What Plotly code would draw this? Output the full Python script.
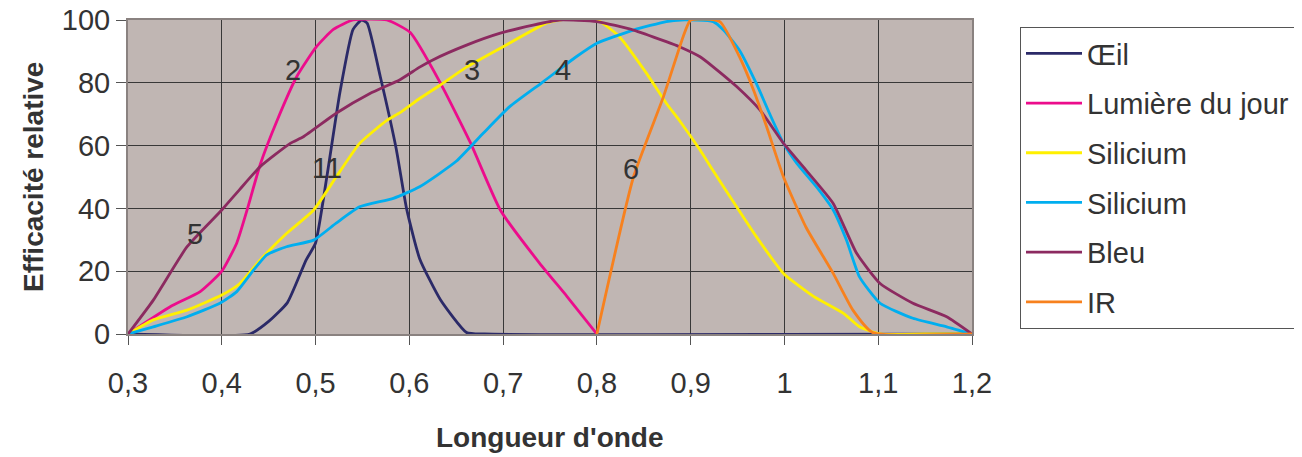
import plotly.graph_objects as go

# Longueur d'onde (µm) et efficacité relative (%)
oeil_x = [0.3, 0.43, 0.45, 0.47, 0.49, 0.5, 0.512, 0.526, 0.54, 0.549, 0.555, 0.569, 0.586, 0.597,
          0.611, 0.633, 0.661, 0.68, 1.2]
oeil_y = [0, 0, 4, 10, 23.6, 29, 50, 77, 97, 100, 99, 82, 59, 40, 24, 11, 0.5, 0, 0]

jour_x = [0.3, 0.345, 0.377, 0.4, 0.416, 0.427, 0.441, 0.459, 0.48, 0.501, 0.519, 0.54, 0.576,
          0.601, 0.633, 0.665, 0.697, 0.739, 0.768, 0.8]
jour_y = [0, 8.7, 13.5, 20, 29, 39.5, 54, 68, 82, 91.5, 97, 100, 100, 96, 80, 61, 39.5, 22.5, 12, 0]

sil1_x = [0.3, 0.327, 0.363, 0.4, 0.419, 0.441, 0.469, 0.498, 0.522, 0.547, 0.576, 0.59, 0.611,
          0.633, 0.661, 0.7, 0.746, 0.76, 0.8, 0.824, 0.853, 0.874, 0.888, 0.91, 0.924, 0.942,
          0.97, 0.999, 1.031, 1.063, 1.08, 1.102, 1.15, 1.2]
sil1_y = [0, 4.5, 7.6, 12.4, 16, 23.6, 32, 39.5, 50, 60.7, 68, 70.5, 75, 79.3, 85, 91.5, 99, 100,
          100, 94.7, 83, 73.5, 68, 58.6, 52, 43.7, 31, 19.3, 12, 6.6, 2.3, 0, 0, 0]

sil2_x = [0.3, 0.327, 0.363, 0.398, 0.416, 0.434, 0.448, 0.469, 0.498, 0.522, 0.547, 0.583, 0.611,
          0.65, 0.679, 0.707, 0.743, 0.778, 0.8, 0.839, 0.874, 0.89, 0.924, 0.935, 0.952, 0.97,
          0.984, 0.999, 1.013, 1.034, 1.052, 1.066, 1.08, 1.102, 1.137, 1.173, 1.2]
sil2_y = [0, 2.3, 5.5, 9.8, 13.5, 20.4, 25.2, 27.8, 29.9, 35.3, 40.5, 43.2, 46.9, 55, 64, 72.4,
          80.4, 88.3, 92.6, 96.8, 99.5, 100, 99.5, 96.8, 90.4, 79.8, 70.3, 60.7, 54.4, 46.9,
          39.5, 30, 18.2, 9.8, 5, 2.3, 0]

bleu_x = [0.3, 0.327, 0.363, 0.4, 0.419, 0.441, 0.473, 0.487, 0.522, 0.558, 0.59, 0.611, 0.625,
          0.661, 0.697, 0.732, 0.76, 0.8, 0.839, 0.874, 0.888, 0.91, 0.924, 0.949, 0.974, 0.999,
          1.023, 1.052, 1.077, 1.102, 1.137, 1.173, 1.2]
bleu_y = [0, 10.8, 27.8, 39.5, 46, 53.3, 60.7, 62.8, 70.3, 76.6, 81, 85, 87.3, 92, 95.8, 98.4,
          100, 99.5, 96.8, 93.1, 91.5, 88.3, 85.1, 78.8, 71.3, 60.7, 52.2, 41.6, 25.7, 16.1, 9.8,
          5.5, 0]

ir_x = [0.8, 0.839, 0.871, 0.892, 0.9, 0.931, 0.952, 0.967, 0.981, 0.999, 1.023, 1.052, 1.073,
        1.094, 1.2]
ir_y = [0, 50, 75.6, 94.7, 100, 99.5, 88.3, 77.7, 66, 50, 34, 19.3, 7.6, 0.5, 0]

x_ticks = [0.3, 0.4, 0.5, 0.6, 0.7, 0.8, 0.9, 1.0, 1.1, 1.2]
x_ticktext = ["0,3", "0,4", "0,5", "0,6", "0,7", "0,8", "0,9", "1", "1,1", "1,2"]

# numéros de courbes posés sur le graphique
label_text = ["2", "3", "4", "11", "5", "6"]
label_x = [0.476, 0.667, 0.764, 0.512, 0.371, 0.836]
label_y = [84, 84, 84, 53, 32, 52.6]

FONT = "Liberation Sans, Arial, sans-serif"
TXT = "#333333"

series = [
    ("Œil", oeil_x, oeil_y, "#2b2a68"),
    ("Lumière du jour", jour_x, jour_y, "#ec0c8c"),
    ("Silicium", sil1_x, sil1_y, "#fff000"),
    ("Silicium", sil2_x, sil2_y, "#00aeef"),
    ("Bleu", bleu_x, bleu_y, "#8c2a60"),
    ("IR", ir_x, ir_y, "#f7811e"),
]

fig = go.Figure()
for i, (name, xs, ys, col) in enumerate(series):
    fig.add_trace(go.Scatter(x=xs, y=ys, mode="lines", name=name, legendgroup=str(i),
                             line=dict(color=col, width=2.8, shape="spline", smoothing=0.5)))

for t, lx, ly in zip(label_text, label_x, label_y):
    fig.add_annotation(x=lx, y=ly, text=t, showarrow=False,
                       font=dict(family=FONT, size=29, color=TXT))

fig.add_annotation(xref="paper", yref="paper", x=-0.1126, y=0.5, text="<b>Efficacité relative</b>",
                   textangle=-90, showarrow=False, xanchor="center", yanchor="middle",
                   font=dict(family=FONT, size=28, color=TXT))
fig.add_annotation(xref="paper", yref="paper", x=0.5, y=-0.331, text="<b>Longueur d'onde</b>",
                   showarrow=False, xanchor="center", yanchor="middle",
                   font=dict(family=FONT, size=28, color=TXT))

# the page body adds 8px around the figure, so the figure is 8px smaller on each side
fig.update_layout(
    width=1294, height=449,
    margin=dict(l=120, r=330, t=12, b=123),
    paper_bgcolor="white", plot_bgcolor="#c0b6b3",
    font=dict(family=FONT, size=29, color=TXT),
    legend=dict(xref="container", yref="container", x=1012 / 1294, y=1 - 19 / 449,
                xanchor="left", yanchor="top", maxheight=420,
                bordercolor="#555555", borderwidth=1, bgcolor="white",
                tracegroupgap=9, itemwidth=56, font=dict(size=29, color=TXT)),
    xaxis=dict(range=[0.3, 1.2], tickvals=x_ticks, ticktext=x_ticktext, automargin=False,
               showgrid=True, gridcolor="#383838", gridwidth=1.4, zeroline=False,
               showline=True, linecolor="#8a8280", linewidth=2, mirror=True,
               ticks="outside", ticklen=9, tickcolor="#555555", ticklabelstandoff=13,
               ticklabeloverflow="allow"),
    yaxis=dict(range=[0, 100], dtick=20, automargin=False,
               showgrid=True, gridcolor="#383838", gridwidth=1.4, zeroline=False,
               showline=True, linecolor="#8a8280", linewidth=2, mirror=True,
               ticks="outside", ticklen=10, tickcolor="#555555", ticklabeloverflow="allow"),
)

fig.write_html("out.html")
